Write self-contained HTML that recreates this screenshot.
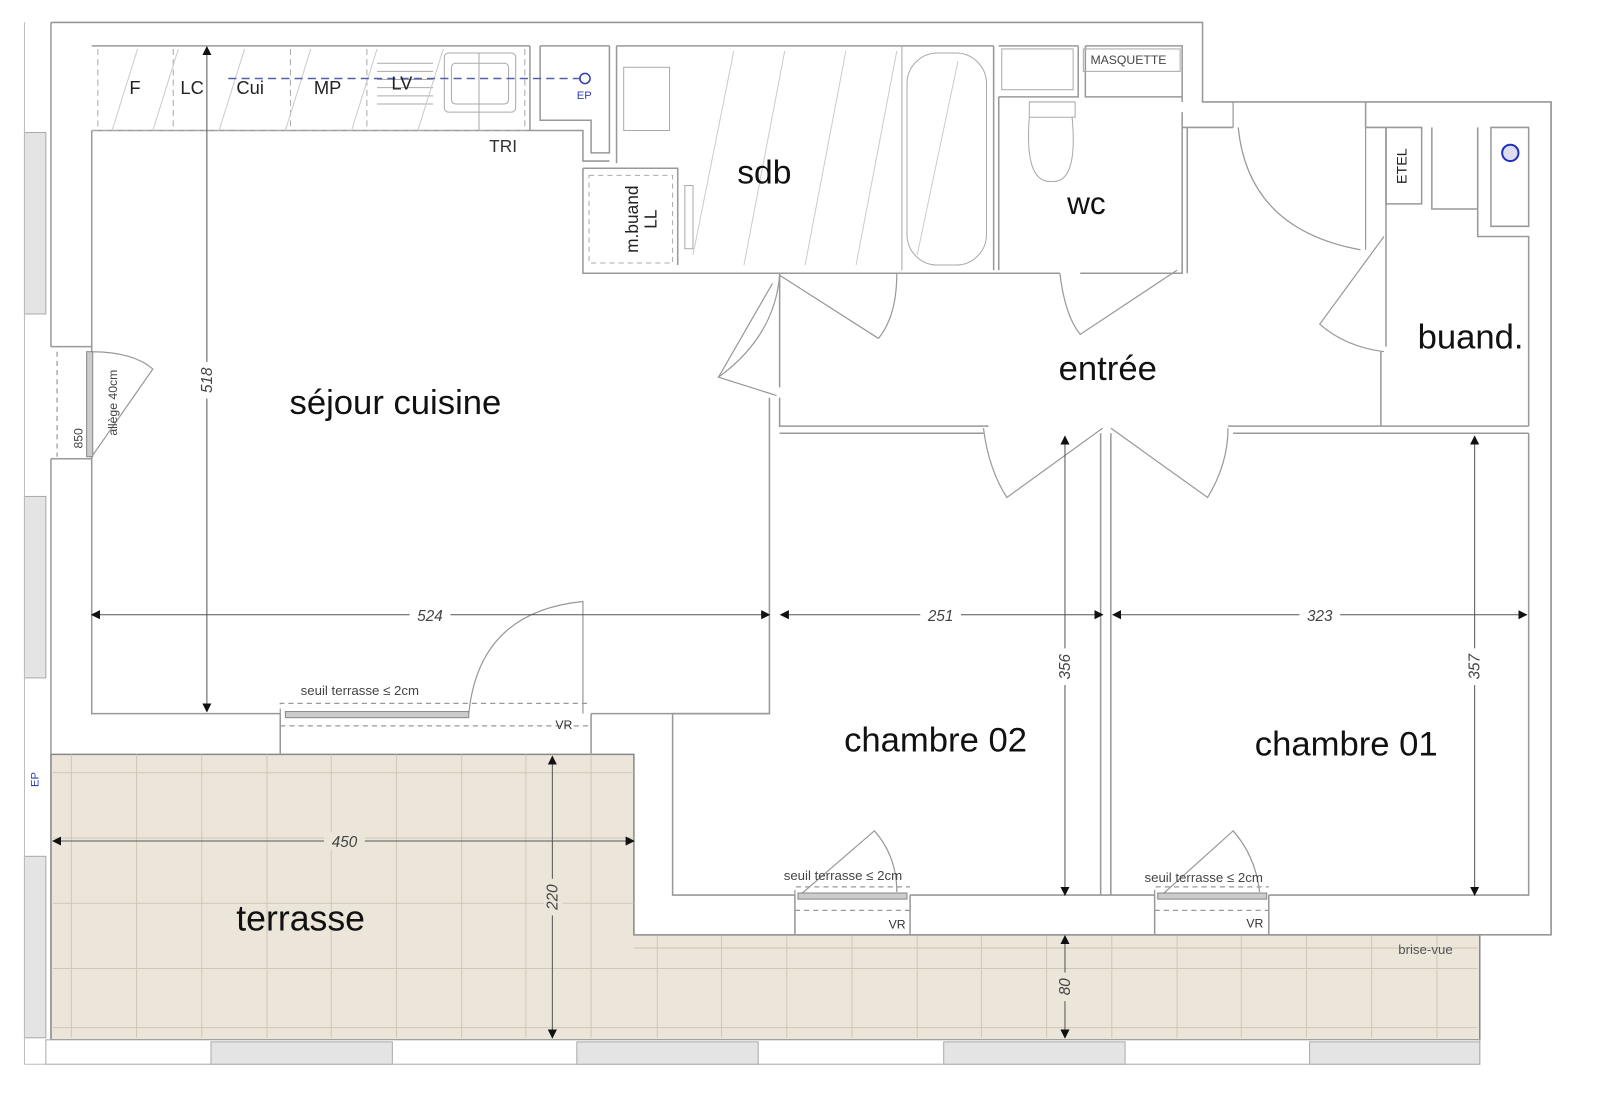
<!DOCTYPE html>
<html><head><meta charset="utf-8"><style>
html,body{margin:0;padding:0;background:#fff;width:1600px;height:1102px;overflow:hidden}
svg{display:block}
text{font-family:"Liberation Sans",sans-serif}
</style></head><body>
<svg width="1600" height="1102" viewBox="0 0 1570 1081" preserveAspectRatio="none" xmlns="http://www.w3.org/2000/svg">
<defs>
<marker id="a" viewBox="0 0 10 10" refX="9" refY="5" markerWidth="9" markerHeight="9" orient="auto-start-reverse"><path d="M0,0 L10,5 L0,10 z" fill="#111"/></marker>
</defs>
<rect width="1570" height="1081" fill="#fff"/>

<g>
<path d="M50,740 H622 V917 H1452 V1020 H50 Z" fill="#ece6da" stroke="#888" stroke-width="1.5"/>
<g stroke="#cfc8b8" stroke-width="1">
<line x1="70" y1="740" x2="70" y2="1018"/><line x1="134" y1="740" x2="134" y2="1018"/><line x1="198" y1="740" x2="198" y2="1018"/><line x1="262" y1="740" x2="262" y2="1018"/><line x1="325" y1="740" x2="325" y2="1018"/><line x1="389" y1="740" x2="389" y2="1018"/><line x1="453" y1="740" x2="453" y2="1018"/><line x1="516" y1="740" x2="516" y2="1018"/><line x1="580" y1="740" x2="580" y2="1018"/>
<line x1="645" y1="917" x2="645" y2="1018"/><line x1="708" y1="917" x2="708" y2="1018"/><line x1="772" y1="917" x2="772" y2="1018"/><line x1="836" y1="917" x2="836" y2="1018"/><line x1="900" y1="917" x2="900" y2="1018"/><line x1="963" y1="917" x2="963" y2="1018"/><line x1="1027" y1="917" x2="1027" y2="1018"/><line x1="1091" y1="917" x2="1091" y2="1018"/><line x1="1155" y1="917" x2="1155" y2="1018"/><line x1="1218" y1="917" x2="1218" y2="1018"/><line x1="1282" y1="917" x2="1282" y2="1018"/><line x1="1346" y1="917" x2="1346" y2="1018"/><line x1="1410" y1="917" x2="1410" y2="1018"/>
<line x1="52" y1="758" x2="622" y2="758"/><line x1="52" y1="822" x2="622" y2="822"/><line x1="52" y1="886" x2="622" y2="886"/><line x1="52" y1="950" x2="1450" y2="950"/><line x1="52" y1="1008" x2="1450" y2="1008"/><line x1="622" y1="930" x2="1450" y2="930"/>
</g>
</g>

<rect x="45" y="1020" width="1407" height="24" fill="#fff" stroke="#aaa"/>
<g fill="#e4e4e4" stroke="#aaa">
<rect x="207" y="1022" width="178" height="22"/><rect x="566" y="1022" width="178" height="22"/><rect x="926" y="1022" width="178" height="22"/><rect x="1285" y="1022" width="167" height="22"/>
<rect x="24" y="130" width="21" height="178"/><rect x="24" y="487" width="21" height="178"/><rect x="24" y="840" width="21" height="178"/>
</g>
<line x1="24" y1="22" x2="24" y2="1044" stroke="#bbb"/>
<line x1="24" y1="1044" x2="1452" y2="1044" stroke="#bbb"/>

<g fill="none" stroke="#999" stroke-width="1.5">
<path d="M50,22 H1180 V100 H1522 V917 H622"/>
<path d="M50,22 V340 M50,450 V740"/>
<path d="M90,128 V700 H275 M580,700 H755 V390 M765,380 V268"/>
<path d="M90,45 H520 M530,45 H598 M605,45 H975 M980,45 H1058 M1065,45 H1160 V100"/>
<path d="M90,128 H572 V158 H598 M520,45 V128 M530,45 V118 H580 V150 H598 V45 M605,45 V160"/>
<path d="M572,165 H665 V260 M572,165 V268 H765 M765,268 H880 M880,268 H1040 M1060,268 H1160 V125 H1210 M1160,265 V110"/>
<path d="M975,45 V265 M980,95 V265 M980,95 H1058 V45 M1065,45 V95 H1160"/>
<path d="M1165,125 V268 M1340,125 H1360 V235 M1360,235 V340 M1355,345 V418 M1340,100 V125"/>
<path d="M1360,125 V200 H1395 V125 H1360 M1405,125 V205 H1450 V125 M1463,125 H1500 V222 H1463 Z M1450,205 V232 H1500 V418"/>
<path d="M765,390 V418 H970 M1205,418 H1500 M765,425 H965 M1210,425 H1500 M1080,425 V878 M1090,425 V878"/>
<path d="M755,700 H660 V878 H780 M893,878 H1133 M1245,878 H1500 V425"/>
<path d="M1522,100 V917"/>
<path d="M275,700 V740 M580,700 V740 M780,878 V917 M893,878 V917 M1133,878 V917 M1245,878 V917"/>
<path d="M50,340 H90 M50,450 H90"/>
</g>

<g stroke="#aaa" fill="none" stroke-width="1">
<line x1="90" y1="128" x2="520" y2="128" stroke-dasharray="6,4"/>
<line x1="96" y1="48" x2="96" y2="128" stroke-dasharray="6,4"/>
<line x1="170" y1="48" x2="170" y2="128" stroke-dasharray="6,4"/>
<line x1="285" y1="48" x2="285" y2="128" stroke-dasharray="6,4"/>
<line x1="360" y1="48" x2="360" y2="128" stroke-dasharray="6,4"/>
<line x1="515" y1="48" x2="515" y2="128" stroke-dasharray="6,4"/>
<rect x="436" y="52" width="70" height="58" rx="4"/><rect x="443" y="62" width="56" height="40" rx="4"/>
<line x1="370" y1="62" x2="425" y2="62"/><line x1="370" y1="70" x2="425" y2="70"/><line x1="370" y1="78" x2="425" y2="78"/><line x1="370" y1="86" x2="425" y2="86"/><line x1="370" y1="94" x2="425" y2="94"/><line x1="370" y1="102" x2="425" y2="102"/>
<line x1="470" y1="52" x2="470" y2="128"/>
<rect x="612" y="66" width="45" height="62"/>
<rect x="890" y="52" width="78" height="208" rx="30"/>
<line x1="885" y1="45" x2="885" y2="265"/>
<rect x="578" y="172" width="82" height="86" stroke-dasharray="5,4"/>
<rect x="672" y="182" width="8" height="62"/>
<rect x="983" y="48" width="70" height="40"/>
<path d="M1010,100 H1055 V115 H1010 Z M1010,115 Q1005,180 1032,178 Q1058,180 1052,115"/>
<rect x="1063" y="48" width="95" height="22"/>
</g>
<g stroke="#ccc" stroke-width="1">
<line x1="110" y1="128" x2="135" y2="48"/><line x1="150" y1="128" x2="175" y2="48"/><line x1="215" y1="128" x2="240" y2="48"/><line x1="280" y1="128" x2="305" y2="48"/><line x1="345" y1="128" x2="370" y2="48"/><line x1="410" y1="128" x2="435" y2="48"/>
<line x1="680" y1="250" x2="720" y2="50"/><line x1="730" y1="260" x2="770" y2="50"/><line x1="790" y1="260" x2="830" y2="50"/><line x1="840" y1="260" x2="880" y2="50"/><line x1="900" y1="250" x2="940" y2="60"/>
</g>
<line x1="224" y1="77" x2="570" y2="77" stroke="#5560aa" stroke-width="1.5" stroke-dasharray="8,5"/>
<circle cx="574" cy="77" r="5" fill="none" stroke="#3340b0" stroke-width="1.5"/>
<circle cx="1482" cy="150" r="8" fill="#dde" stroke="#2230c0" stroke-width="2"/>

<g fill="none" stroke="#999" stroke-width="1.2">
<path d="M765,270 L862,332 M765,270 Q760,330 705,370 L762,388"/>
<path d="M705,370 L758,278"/>
<path d="M880,268 Q880,310 862,332"/>
<path d="M1040,268 Q1045,310 1060,328 L1155,265"/>
<path d="M1210,100 V125 M1215,125 Q1225,225 1335,245 M1340,125 V245"/>
<path d="M1358,232 L1295,318 Q1320,340 1358,345"/>
<path d="M965,420 Q970,460 988,488 L1082,420 M1090,420 L1185,488 Q1205,455 1205,420"/>
<path d="M460,700 Q470,600 572,590 V700"/>
<path d="M90,345 Q130,345 150,362 L90,448"/>
<path d="M785,878 L858,815 Q880,840 880,875 M1140,878 L1210,815 Q1232,840 1236,875"/>
<path d="M275,700 V690 H580 M780,878 V870 H893 M1133,878 V870 H1245" stroke-dasharray="5,4"/>
<path d="M275,712 H580 M780,893 H893 M1133,893 H1245" stroke-dasharray="5,4"/>
<path d="M56,345 V448" stroke-dasharray="5,4"/>
</g>
<g fill="#ccc" stroke="#888">
<rect x="280" y="698" width="180" height="6"/><rect x="783" y="876" width="107" height="6"/><rect x="1136" y="876" width="107" height="6"/><rect x="85" y="345" width="6" height="103"/>
</g>

<g stroke="#555" stroke-width="1" fill="none">
<line x1="203" y1="46" x2="203" y2="698" marker-start="url(#a)" marker-end="url(#a)"/>
<line x1="90" y1="603" x2="755" y2="603" marker-start="url(#a)" marker-end="url(#a)"/>
<line x1="766" y1="603" x2="1082" y2="603" marker-start="url(#a)" marker-end="url(#a)"/>
<line x1="1092" y1="603" x2="1498" y2="603" marker-start="url(#a)" marker-end="url(#a)"/>
<line x1="1045" y1="428" x2="1045" y2="878" marker-start="url(#a)" marker-end="url(#a)"/>
<line x1="1447" y1="428" x2="1447" y2="878" marker-start="url(#a)" marker-end="url(#a)"/>
<line x1="52" y1="825" x2="622" y2="825" marker-start="url(#a)" marker-end="url(#a)"/>
<line x1="542" y1="742" x2="542" y2="1018" marker-start="url(#a)" marker-end="url(#a)"/>
<line x1="1045" y1="918" x2="1045" y2="1018" marker-start="url(#a)" marker-end="url(#a)"/>
</g>
<g font-size="15" font-style="italic" fill="#444" text-anchor="middle">
<rect x="402" y="594" width="40" height="18" fill="#fff"/><text x="422" y="609">524</text>
<rect x="903" y="594" width="40" height="18" fill="#fff"/><text x="923" y="609">251</text>
<rect x="1275" y="594" width="40" height="18" fill="#fff"/><text x="1295" y="609">323</text>
<rect x="318" y="816" width="40" height="18" fill="#ece6da"/><text x="338" y="831">450</text>
<g transform="translate(208,373) rotate(-90)"><rect x="-18" y="-13" width="36" height="18" fill="#fff"/><text x="0" y="0">518</text></g>
<g transform="translate(1050,654) rotate(-90)"><rect x="-18" y="-13" width="36" height="18" fill="#fff"/><text x="0" y="0">356</text></g>
<g transform="translate(1452,654) rotate(-90)"><rect x="-18" y="-13" width="36" height="18" fill="#fff"/><text x="0" y="0">357</text></g>
<g transform="translate(547,880) rotate(-90)"><rect x="-18" y="-13" width="36" height="18" fill="#ece6da"/><text x="0" y="0">220</text></g>
<g transform="translate(1050,968) rotate(-90)"><rect x="-14" y="-13" width="28" height="18" fill="#ece6da"/><text x="0" y="0">80</text></g>
</g>

<g fill="#111">
<text x="388" y="406" font-size="34" text-anchor="middle">séjour cuisine</text>
<text x="750" y="180" font-size="33" text-anchor="middle">sdb</text>
<text x="1066" y="210" font-size="31" text-anchor="middle">wc</text>
<text x="1087" y="373" font-size="34" text-anchor="middle">entrée</text>
<text x="1443" y="342" font-size="34" text-anchor="middle">buand.</text>
<text x="918" y="737" font-size="34" text-anchor="middle">chambre 02</text>
<text x="1321" y="741" font-size="34" text-anchor="middle">chambre 01</text>
<text x="295" y="913" font-size="35" text-anchor="middle">terrasse</text>
<g font-size="18" fill="#222"><text x="127" y="92">F</text><text x="177" y="92">LC</text><text x="232" y="92">Cui</text><text x="308" y="92">MP</text><text x="384" y="88">LV</text></g>
<text x="480" y="149" font-size="17" fill="#333">TRI</text>
<text x="1070" y="63" font-size="12" fill="#444">MASQUETTE</text>
<text x="295" y="682" font-size="13" fill="#444">seuil terrasse ≤ 2cm</text>
<text x="769" y="863" font-size="13" fill="#444">seuil terrasse ≤ 2cm</text>
<text x="1123" y="865" font-size="13" fill="#444">seuil terrasse ≤ 2cm</text>
<g font-size="12" fill="#333"><text x="545" y="715">VR</text><text x="872" y="911">VR</text><text x="1223" y="910">VR</text></g>
<text x="1372" y="936" font-size="13" fill="#555">brise-vue</text>
<g transform="translate(626,215) rotate(-90)" font-size="17" text-anchor="middle" fill="#222"><text x="0" y="0">m.buand</text><text x="0" y="18">LL</text></g>
<g transform="translate(1380,163) rotate(-90)" font-size="14" text-anchor="middle" fill="#222"><text x="0" y="0">ETEL</text></g>
<g transform="translate(115,395) rotate(-90)" font-size="12" text-anchor="middle" fill="#444"><text x="0" y="0">allège 40cm</text></g>
<g transform="translate(81,430) rotate(-90)" font-size="12" text-anchor="middle" fill="#444"><text x="0" y="0">850</text></g>
<text x="566" y="97" font-size="11" fill="#3340b0">EP</text>
<g transform="translate(38,772) rotate(-90)" font-size="11" fill="#3340b0"><text x="0" y="0">EP</text></g>
</g>
</svg>
</body></html>
